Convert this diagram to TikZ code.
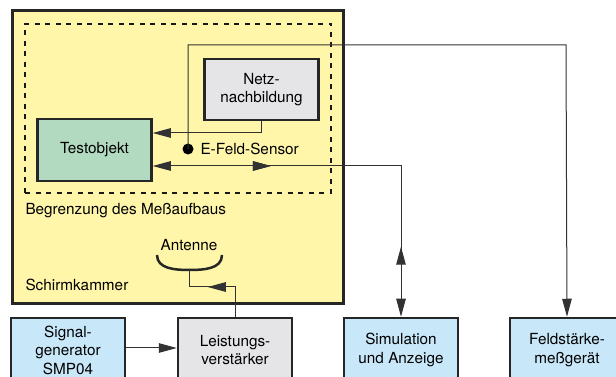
\documentclass[tikz,border=0pt]{standalone}
\usepackage{fontspec}
\setmainfont{TeX Gyre Heros}
\usetikzlibrary{arrows.meta}
\usetikzlibrary{decorations.markings}
\definecolor{kammergelb}{RGB}{255,246,170}
\definecolor{objgruen}{RGB}{178,218,192}
\definecolor{geraetgrau}{RGB}{229,229,232}
\definecolor{geraetblau}{RGB}{200,232,250}
\definecolor{linie}{RGB}{50,50,50}
\tikzset{
every picture/.style={line width=1pt, x=1pt, y=1pt,
                       >={Triangle[length=18pt,width=9.5pt]}},
%%%%%%%%%%  Node styles
txt/.style={font=\fontsize{15.3pt}{18.5pt}\selectfont, inner sep=0pt},
block/.style={txt, draw=black!85, line width=2.5pt, align=center,
              minimum width=114pt, minimum height=62pt},
kammer/.style={draw=black!85, line width=3pt, fill=kammergelb},
grenze/.style={draw=black!90, line width=2.5pt, dash pattern=on 5pt off 5.5pt},
dotnode/.style={fill=black,circle,minimum size=11pt, inner sep=0pt},
%%%% different line styles:
conn/.style={draw=linie, line width=1pt},
antenne/.style={draw=black!85, line width=2.5pt},
%%%%%%% Mid-path arrows
midarrow/.style={postaction={decorate},
                 decoration={
                    markings,% switch on markings
                    mark=at position #1 with {\arrow{>}},
                 }},
backarrow/.style={postaction={decorate,
                 decoration={
                    markings,
                    mark=at position #1 with {\arrow{<}},
                 }}},
}

\begin{document}
\begin{tikzpicture}
\useasboundingbox (0,0) rectangle (616,377);
%%%% Schirmkammer und Messaufbau
\node[kammer, minimum width=331pt, minimum height=293pt] (kammer) at (177.5,219.5) {};
\node[grenze, minimum width=306pt, minimum height=169pt] (grenze) at (178,268.5) {};
\node[txt, anchor=west] (grenzetext) at (25,166) {Begrenzung des Meßaufbaus};
\node[txt, anchor=west] (kammertext) at (25,92) {Schirmkammer};
%%%% Geraete in der Kammer
\node[block, fill=geraetgrau, minimum height=61pt] (netz) at (261.5,287.5) {Netz-\\nachbildung};
\node[block, fill=objgruen] (testobj) at (94.5,227) {Testobjekt};
\node[dotnode] (sensor) at (188,228) {};
\node[txt, anchor=west] (sensortext) at (200,228) {E-Feld-Sensor};
%%%% Antenne
\coordinate (ant) at (189,107);
\draw[antenne] (157,122) to[out=-90,in=180] (ant) to[out=0,in=-90] (222,122);
\node[txt] (antext) at (189,132) {Antenne};
%%%% Geraete ausserhalb
\node[block, fill=geraetblau, minimum height=64pt] (siggen) at (68,27) {Signal-\\generator\\SMP04};
\node[block, fill=geraetgrau, minimum height=64pt] (verst) at (235,27) {Leistungs-\\verstärker};
\node[block, fill=geraetblau, minimum height=64pt] (sim) at (401,27) {Simulation\\und Anzeige};
\node[block, fill=geraetblau, minimum height=64pt] (feld) at (567,27) {Feldstärke-\\meßgerät};
%%%% Verbindungen
\coordinate (sensknick) at (566,332);
\coordinate (antknick) at (189,90);
\draw[conn,->] (netz.south) |- ([yshift=17pt]testobj.east);
\draw[conn,<->, midarrow=118pt, backarrow=347pt] ([yshift=-16pt]testobj.east) -| (sim.north);
\draw[conn,->] (sensor.center) |- (sensknick) -- (feld.north);
\draw[conn, midarrow=57pt] (verst.north) |- (antknick) -- (ant);
\draw[conn,->] ([yshift=2pt]siggen.east) -- ([yshift=2pt]verst.west);
\end{tikzpicture}
\end{document}
